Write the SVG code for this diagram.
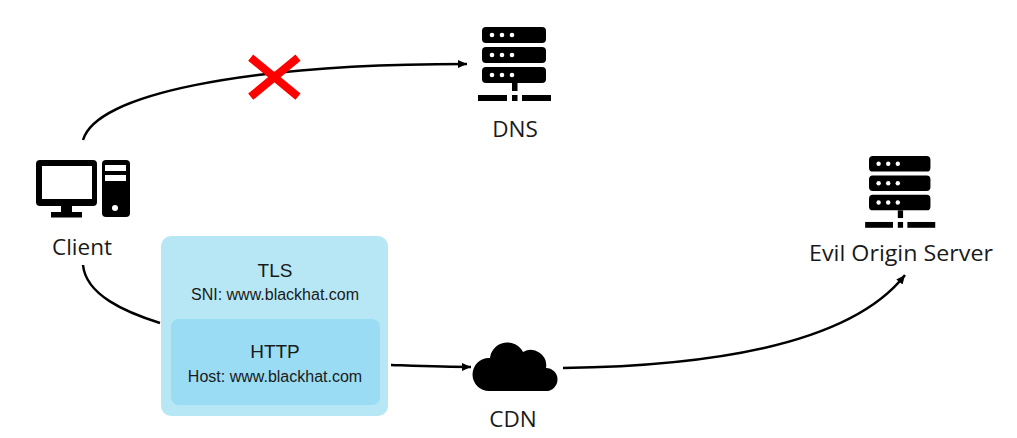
<svg xmlns="http://www.w3.org/2000/svg" width="1017" height="438" viewBox="0 0 1017 438">
<style>
.lbl{font-family:"Open Sans","Noto Sans",sans-serif;font-size:22.5px;fill:#1a1a1a;text-anchor:middle}
.big{font-family:"Liberation Sans",Arial,sans-serif;font-size:19px;fill:#1a1a1a;text-anchor:middle}
.small{font-family:"Liberation Sans",Arial,sans-serif;font-size:16px;fill:#1a1a1a;text-anchor:middle}
.conn{fill:none;stroke:#000;stroke-width:2.5}
.dot{fill:#fff}
</style>
<defs>
<marker id="arrow" markerUnits="userSpaceOnUse" markerWidth="10" markerHeight="10" refX="9" refY="4.5" orient="auto">
<path d="M0 0.5L9 4.5L0 8.5Z" fill="#000"/>
</marker>
<g id="srv">
<rect x="0" y="0" width="64" height="16" rx="4"/>
<rect x="0" y="20" width="64" height="16" rx="4"/>
<rect x="0" y="40" width="64" height="16" rx="4"/>
<g class="dot">
<circle cx="10" cy="8" r="2.3"/><circle cx="20" cy="8" r="2.3"/><circle cx="30" cy="8" r="2.3"/>
<circle cx="10" cy="28" r="2.3"/><circle cx="20" cy="28" r="2.3"/><circle cx="30" cy="28" r="2.3"/>
<circle cx="10" cy="48" r="2.3"/><circle cx="20" cy="48" r="2.3"/><circle cx="30" cy="48" r="2.3"/>
</g>
<rect x="30" y="56" width="5.5" height="8"/>
<rect x="-4" y="68" width="29" height="6"/>
<rect x="30" y="68" width="5.5" height="6"/>
<rect x="40" y="68" width="29" height="6"/>
</g>
</defs>
<g id="connectors">
<path class="conn" marker-end="url(#arrow)" d="M83 140C96 95 240 64 467 64"/>
<path class="conn" d="M83 265C86 295 125 312 160 323"/>
<path class="conn" marker-end="url(#arrow)" d="M391 365C420 366 445 367 471 367"/>
<path class="conn" marker-end="url(#arrow)" d="M563 368C710 366 850 345 905 275"/>
</g>
<g id="cross"><path d="M250.7 57.7L298 96.7M298 57.7L250.7 96.7" fill="none" stroke="#f00" stroke-width="8"/></g>
<g id="dns">
<use href="#srv" x="482" y="27"/>
<text class="lbl" x="515" y="137">DNS</text>
</g>
<g id="client">
<rect x="36" y="160" width="61" height="46" rx="4"/>
<rect x="42" y="166" width="50" height="33" fill="#fff"/>
<rect x="61" y="205" width="11" height="8"/>
<rect x="51" y="212" width="31" height="5.5"/>
<rect x="102" y="160" width="28" height="57" rx="4"/>
<rect x="105" y="165" width="21" height="6" fill="#fff"/>
<rect x="105" y="175" width="21" height="6" fill="#fff"/>
<circle cx="115" cy="208" r="3" fill="#fff"/>
<text class="lbl" x="82" y="255">Client</text>
</g>
<g id="evil">
<use href="#srv" transform="translate(869 156) scale(0.96 0.97)"/>
<text class="lbl" x="901" y="261" textLength="184" lengthAdjust="spacingAndGlyphs">Evil Origin Server</text>
</g>
<g id="cdn">
<path d="M489 391A16.5 16.5 0 0 1 489 358H490A17.5 17.5 0 0 1 523 352A15.5 15.5 0 0 1 546 368A11.5 11.5 0 0 1 546 391Z"/>
<text class="lbl" x="513" y="427">CDN</text>
</g>
<g id="tls">
<rect x="161" y="236" width="227" height="180" rx="10" fill="#b7e7f4"/>
<text class="big" x="275" y="277">TLS</text>
<text class="small" x="275" y="300">SNI: www.blackhat.com</text>
</g>
<g id="http">
<rect x="171" y="319" width="209" height="86" rx="8" fill="#99dcf3"/>
<text class="big" x="275" y="358">HTTP</text>
<text class="small" x="275" y="382">Host: www.blackhat.com</text>
</g>
</svg>
